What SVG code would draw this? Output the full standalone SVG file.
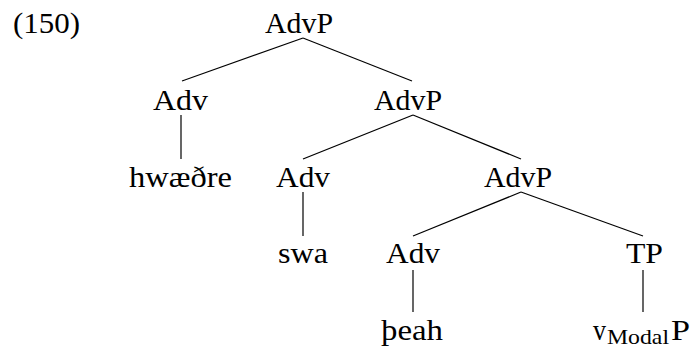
<svg xmlns="http://www.w3.org/2000/svg" width="696" height="349" viewBox="0 0 696 349">
<style>
text{font-family:'Liberation Serif',serif;font-size:30px;fill:#000}
.sub{font-size:21px}
#edges line{stroke:#000;stroke-width:1.2}
</style>
<rect width="696" height="349" fill="#fff"/>
<g font-family="Liberation Serif, serif">
<text id="label" x="13" y="33" textLength="67" lengthAdjust="spacingAndGlyphs">(150)</text>
<g id="edges">
<line x1="303" y1="38" x2="182" y2="81"/>
<line x1="303" y1="38" x2="412" y2="81"/>
<line x1="181" y1="115" x2="181" y2="159"/>
<line x1="413" y1="115" x2="303" y2="159"/>
<line x1="413" y1="115" x2="521" y2="159"/>
<line x1="303" y1="192" x2="303" y2="236"/>
<line x1="521" y1="192" x2="413" y2="236"/>
<line x1="521" y1="192" x2="643" y2="236"/>
<line x1="413" y1="270" x2="413" y2="312"/>
<line x1="643" y1="270" x2="643" y2="312"/>
</g>
<g id="n-advp1"><text x="265" y="33" textLength="68" lengthAdjust="spacingAndGlyphs">AdvP</text></g>
<g id="n-adv1"><text x="153" y="110" textLength="55" lengthAdjust="spacingAndGlyphs">Adv</text></g>
<g id="n-advp2"><text x="374" y="110" textLength="68" lengthAdjust="spacingAndGlyphs">AdvP</text></g>
<g id="n-hwaedre"><text x="129" y="187" textLength="103" lengthAdjust="spacingAndGlyphs">hwæðre</text></g>
<g id="n-adv2"><text x="276" y="187" textLength="54" lengthAdjust="spacingAndGlyphs">Adv</text></g>
<g id="n-advp3"><text x="484" y="187" textLength="68" lengthAdjust="spacingAndGlyphs">AdvP</text></g>
<g id="n-swa"><text x="278" y="263" textLength="50" lengthAdjust="spacingAndGlyphs">swa</text></g>
<g id="n-adv3"><text x="386" y="263" textLength="54" lengthAdjust="spacingAndGlyphs">Adv</text></g>
<g id="n-tp"><text x="626" y="263" textLength="37" lengthAdjust="spacingAndGlyphs">TP</text></g>
<g id="n-theah"><text x="381" y="340" textLength="62" lengthAdjust="spacingAndGlyphs">þeah</text></g>
<g id="n-vmodalp"><text x="593" y="340"><tspan x="593" textLength="13" lengthAdjust="spacingAndGlyphs">v</tspan><tspan class="sub" x="607" y="344" textLength="62" lengthAdjust="spacingAndGlyphs">Modal</tspan><tspan x="671" y="340" textLength="19" lengthAdjust="spacingAndGlyphs">P</tspan></text></g>
</g>
</svg>
